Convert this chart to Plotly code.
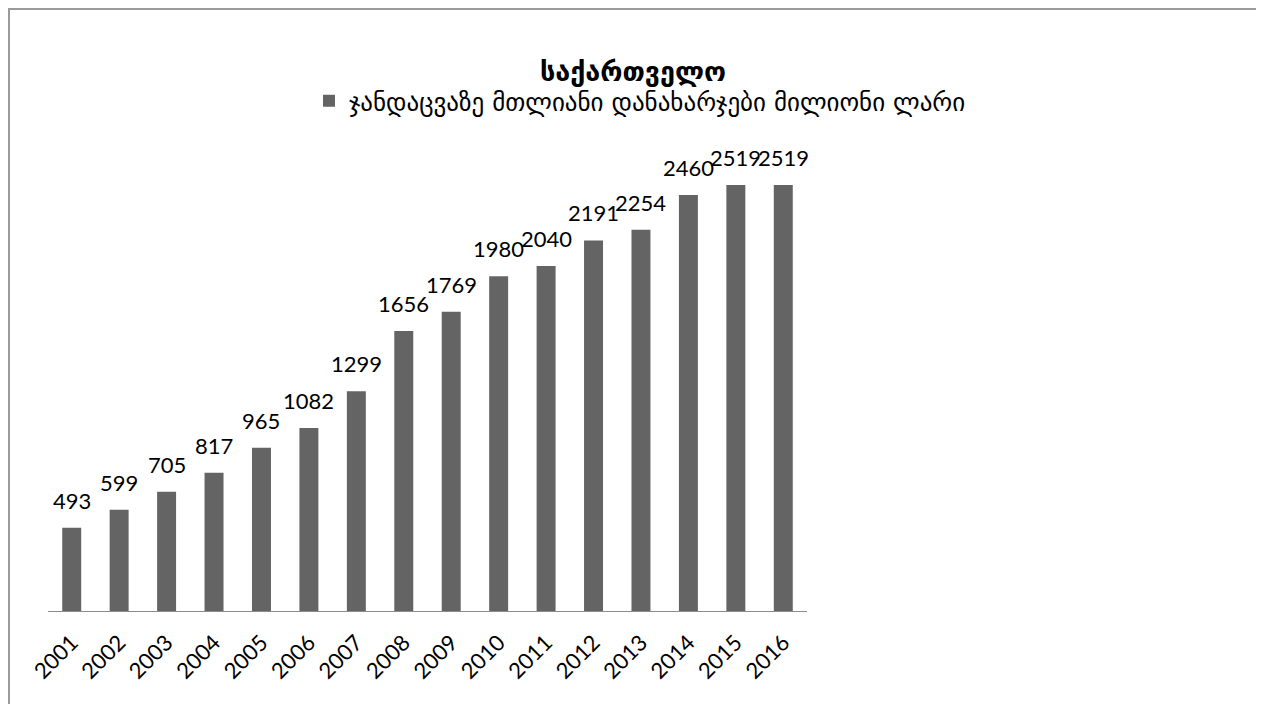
import plotly.graph_objects as go

years = [str(y) for y in range(2001, 2017)]
values = [493, 599, 705, 817, 965, 1082, 1299, 1656, 1769, 1980, 2040, 2191, 2254, 2460, 2519, 2519]
series_name = "ჯანდაცვაზე მთლიანი დანახარჯები მილიონი ლარი"
title_text = "საქართველო"

# page body has an 8px default margin; work in figure pixels (screen - 8)
OFF = 8
W, H = 1264 - OFF, 704 - OFF
L, R, T, B = 48 - OFF, W - (807 - OFF), 150 - OFF, H - (611 - OFF)
pw, ph = W - L - R, H - T - B

fig = go.Figure()
fig.add_trace(go.Bar(
    x=years, y=values, name=series_name,
    marker=dict(color="#646464", line=dict(width=0)),
    showlegend=True,
))

# value labels above bars (category index positions on the x axis)
for i, v in enumerate(values):
    fig.add_annotation(x=i, y=v, xref="x", yref="y", text=str(v), showarrow=False,
                       xanchor="center", yanchor="bottom", yshift=12,
                       font=dict(family="Lato, DejaVu Sans, sans-serif", size=22, color="#000000"))

def px_x(x):
    return (x - OFF - L) / pw

def px_y(y):
    return (H - B - (y - OFF)) / ph

fig.update_layout(
    width=W, height=H,
    margin=dict(l=L, r=R, t=T, b=B),
    paper_bgcolor="white", plot_bgcolor="white",
    bargap=0.6,
    title=dict(text="<b>" + title_text + "</b>", x=(633 - OFF) / W, xref="container", xanchor="center",
               y=1 - (72 - OFF) / H, yref="container", yanchor="middle",
               font=dict(family="DejaVu Sans, sans-serif", size=27, color="#000000")),
    legend=dict(orientation="h", x=(640 - OFF) / W, xanchor="center", xref="container",
                y=1 - (101 - OFF) / H, yanchor="middle", yref="container",
                font=dict(family="DejaVu Sans, sans-serif", size=25, color="#000000"),
                itemwidth=30),
    xaxis=dict(type="category", categoryorder="array", categoryarray=years,
               range=[-0.5, len(years) - 0.5],
               showline=True, linecolor="#8c8c8c", linewidth=1, ticks="",
               tickangle=-45, automargin=False, ticklabelstandoff=9,
               tickfont=dict(family="Lato, DejaVu Sans, sans-serif", size=22, color="#000000"),
               showgrid=False),
    yaxis=dict(range=[0, (H - B - T) / (426 / 2519)], visible=False, showgrid=False),
    shapes=[dict(type="rect", xref="paper", yref="paper",
                 x0=px_x(9), x1=px_x(1259), y0=px_y(720), y1=px_y(9),
                 line=dict(color="#9a9a9a", width=2), layer="below")],
)

fig.write_html("out.html")
